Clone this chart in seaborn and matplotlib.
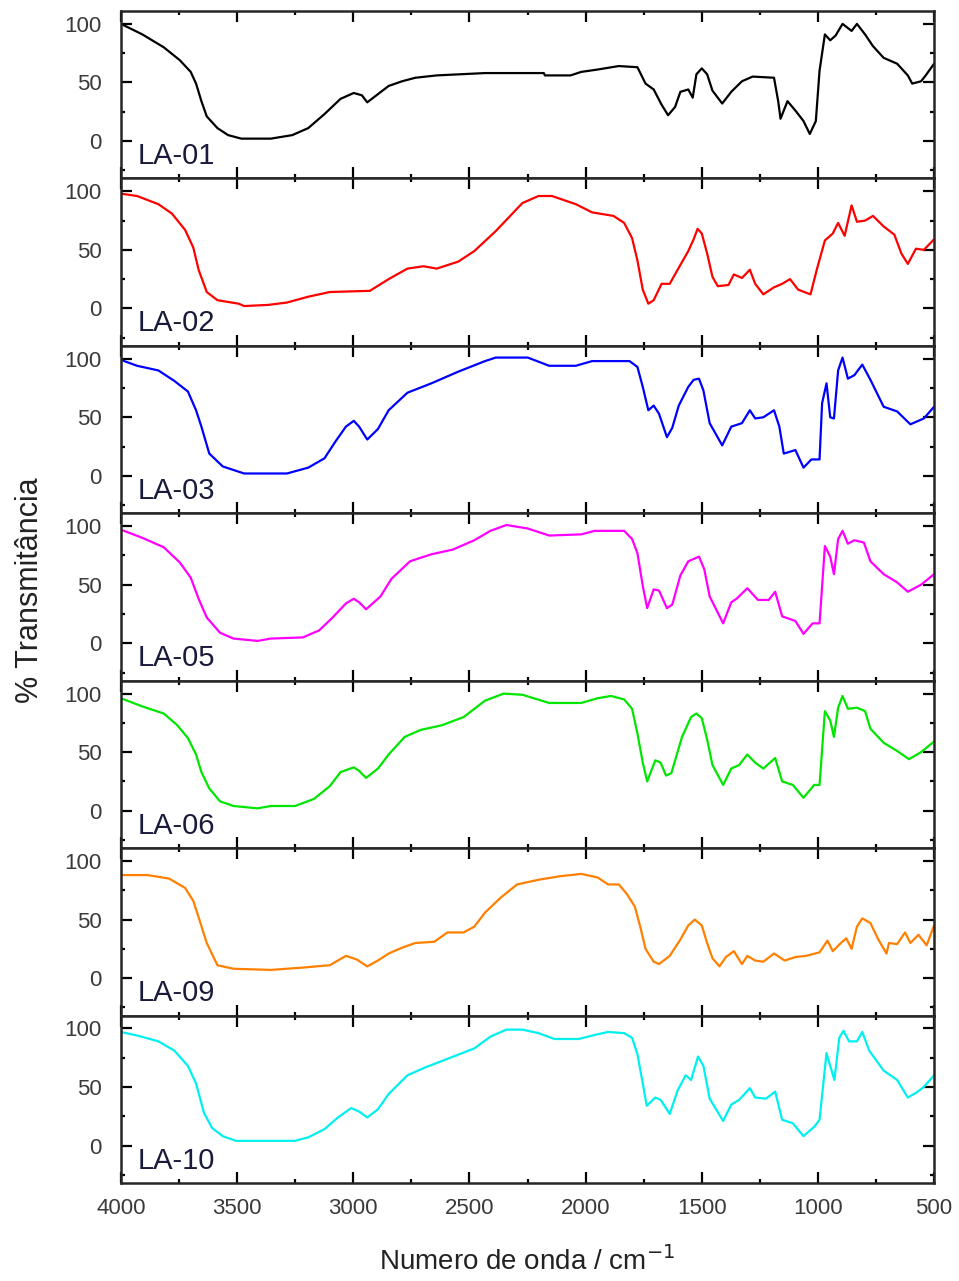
# FTIR spectra of the LA samples, stacked panels

import pandas as pd
import numpy as np
import matplotlib
matplotlib.use("Agg")
import matplotlib.pyplot as plt
import seaborn as sns
from matplotlib.ticker import MultipleLocator

sns.set_style("ticks")
plt.rcParams["font.family"] = ["Liberation Sans", "DejaVu Sans"]

# ------------------------
# Data
# ------------------------
samples = ["LA-01", "LA-02", "LA-03", "LA-05", "LA-06", "LA-09", "LA-10"]
colors = ["black", "#ff0000", "#0000ff", "#ff00ff", "#00e600", "#ff8000", "#00f0f0"]

wn_la01 = [4000, 3908, 3816, 3747, 3700, 3677, 3654, 3631, 3585, 3539, 3482, 3355, 3263, 3194, 3124,
           3055, 2998, 2963, 2940, 2894, 2848, 2790, 2733, 2641, 2433, 2180, 2175, 2065, 2019, 1949,
           1857, 1777, 1742, 1707, 1673, 1645, 1615, 1592, 1558, 1539, 1523, 1500, 1477, 1454, 1412,
           1373, 1327, 1281, 1189, 1171, 1161, 1131, 1097, 1062, 1035, 1009, 993, 970, 947, 924, 894,
           855, 832, 797, 763, 717, 659, 613, 594, 556, 536, 500]
t_la01 = [100, 91, 80, 69, 59, 49, 34, 21, 11, 5, 2, 2, 5, 11, 23,
          36, 41, 39, 33, 40, 47, 51, 54, 56, 58, 58, 56, 56, 59, 61,
          64, 63, 49, 44, 31, 22, 29, 42, 44, 37, 57, 62, 57, 43, 32,
          42, 51, 55, 54, 34, 19, 34, 26, 17, 6, 17, 60, 91, 86, 90, 100,
          94, 100, 91, 81, 71, 66, 56, 49, 51, 56, 66]

wn_la02 = [4000, 3931, 3839, 3781, 3724, 3689, 3666, 3631, 3585, 3493, 3470, 3366, 3286, 3194, 3101,
           2929, 2848, 2767, 2698, 2641, 2548, 2479, 2387, 2272, 2203, 2145, 2042, 1972, 1880, 1834,
           1800, 1777, 1754, 1730, 1707, 1673, 1638, 1604, 1558, 1535, 1518, 1500, 1477, 1454, 1431,
           1385, 1362, 1327, 1293, 1270, 1235, 1189, 1154, 1120, 1085, 1032, 1005, 970, 936, 913, 885,
           855, 832, 797, 763, 717, 671, 641, 613, 578, 544, 500]
t_la02 = [98, 96, 89, 81, 67, 52, 33, 14, 7, 4, 2, 3, 5, 10, 14,
          15, 25, 34, 36, 34, 40, 49, 66, 90, 96, 96, 89, 82, 79, 73,
          60, 41, 16, 4, 7, 21, 21, 33, 49, 59, 68, 64, 47, 27, 19,
          20, 29, 26, 33, 21, 12, 18, 21, 25, 16, 12, 33, 58, 64, 73, 62,
          88, 74, 75, 79, 70, 63, 47, 38, 51, 50, 59]

wn_la03 = [4000, 3931, 3839, 3770, 3712, 3677, 3654, 3620, 3562, 3470, 3286, 3194, 3124, 3078, 3032,
           2998, 2975, 2940, 2894, 2848, 2767, 2664, 2548, 2433, 2387, 2249, 2157, 2042, 1972, 1811,
           1777, 1754, 1730, 1707, 1684, 1650, 1627, 1599, 1558, 1535, 1512, 1493, 1466, 1412, 1373,
           1327, 1293, 1270, 1235, 1189, 1166, 1147, 1097, 1062, 1028, 993, 982, 963, 947, 931, 913,
           894, 871, 843, 809, 774, 717, 659, 602, 544, 500]
t_la03 = [99, 94, 90, 81, 72, 56, 42, 19, 8, 2, 2, 7, 15, 29, 42,
          47, 42, 31, 40, 56, 71, 79, 89, 98, 101, 101, 94, 94, 98, 98,
          93, 76, 56, 60, 53, 33, 41, 60, 76, 82, 83, 73, 45, 26, 42,
          45, 56, 49, 50, 56, 42, 19, 22, 7, 14, 14, 62, 79, 50, 49, 90,
          101, 83, 86, 95, 82, 59, 55, 44, 49, 59]

wn_la05 = [4000, 3908, 3816, 3747, 3700, 3666, 3631, 3574, 3516, 3412, 3355, 3217, 3147, 3089, 3032,
           2998, 2975, 2945, 2883, 2836, 2756, 2664, 2572, 2479, 2410, 2341, 2249, 2157, 2019, 1961,
           1834, 1800, 1777, 1754, 1735, 1707, 1684, 1650, 1627, 1592, 1558, 1512, 1489, 1466, 1408,
           1373, 1350, 1304, 1258, 1212, 1184, 1154, 1097, 1062, 1023, 993, 970, 947, 931, 913, 894,
           871, 843, 802, 774, 717, 659, 613, 556, 500]
t_la05 = [97, 90, 82, 69, 56, 38, 22, 9, 4, 2, 4, 5, 11, 22, 34,
          38, 35, 29, 40, 55, 70, 76, 80, 88, 96, 101, 98, 92, 93, 96,
          96, 89, 77, 49, 30, 46, 45, 30, 33, 58, 70, 74, 63, 40, 17,
          35, 38, 47, 37, 37, 44, 23, 19, 8, 17, 17, 83, 74, 59, 89, 96,
          85, 88, 86, 70, 59, 52, 44, 50, 59]

wn_la06 = [4000, 3908, 3816, 3758, 3712, 3677, 3654, 3620, 3574, 3516, 3412, 3355, 3251, 3170, 3101,
           3055, 2998, 2975, 2945, 2894, 2848, 2779, 2710, 2618, 2525, 2433, 2353, 2272, 2157, 2019,
           1949, 1891, 1834, 1800, 1777, 1754, 1735, 1700, 1677, 1654, 1631, 1585, 1546, 1523, 1500,
           1477, 1454, 1408, 1373, 1339, 1304, 1270, 1235, 1184, 1154, 1108, 1062, 1016, 993, 970, 947,
           931, 913, 894, 871, 832, 797, 774, 717, 659, 608, 556, 500]
t_la06 = [96, 89, 83, 73, 62, 48, 33, 19, 8, 4, 2, 4, 4, 10, 21,
          33, 37, 34, 28, 36, 48, 63, 69, 73, 80, 94, 100, 99, 92, 92,
          96, 98, 95, 87, 66, 41, 25, 43, 41, 30, 32, 63, 80, 83, 79,
          61, 39, 22, 36, 39, 48, 41, 36, 45, 25, 22, 11, 22, 22, 85, 77,
          63, 88, 98, 87, 88, 85, 70, 58, 51, 44, 50, 59]

wn_la09 = [4000, 3885, 3793, 3724, 3689, 3666, 3631, 3585, 3516, 3355, 3217, 3101, 3032, 2986, 2940,
           2894, 2848, 2790, 2733, 2652, 2595, 2525, 2479, 2433, 2364, 2295, 2203, 2111, 2019, 1949,
           1903, 1857, 1823, 1788, 1765, 1742, 1707, 1684, 1638, 1592, 1558, 1530, 1500, 1477, 1454,
           1424, 1396, 1362, 1327, 1304, 1270, 1235, 1189, 1143, 1097, 1051, 993, 959, 936, 901, 878,
           855, 832, 809, 774, 740, 705, 694, 659, 625, 602, 567, 532, 500]
t_la09 = [88, 88, 85, 77, 66, 52, 30, 11, 8, 7, 9, 11, 19, 16, 10,
          15, 21, 26, 30, 31, 39, 39, 44, 56, 69, 80, 84, 87, 89, 86,
          80, 80, 72, 61, 44, 25, 14, 12, 19, 33, 45, 50, 45, 30, 17,
          10, 18, 23, 12, 19, 15, 14, 21, 15, 18, 19, 22, 32, 23, 30, 34,
          25, 44, 51, 47, 33, 21, 30, 29, 39, 30, 37, 28, 45]

wn_la10 = [4000, 3931, 3839, 3770, 3712, 3677, 3643, 3608, 3562, 3505, 3251, 3194, 3124, 3066, 3009,
           2975, 2940, 2894, 2848, 2767, 2687, 2595, 2479, 2410, 2341, 2272, 2203, 2134, 2030, 1949,
           1903, 1834, 1800, 1777, 1754, 1737, 1700, 1677, 1638, 1604, 1569, 1546, 1516, 1493, 1466,
           1408, 1373, 1339, 1293, 1270, 1224, 1184, 1154, 1108, 1062, 1016, 993, 963, 947, 929, 908,
           890, 866, 832, 809, 779, 717, 659, 613, 578, 544, 500]
t_la10 = [97, 94, 89, 81, 68, 53, 28, 15, 8, 4, 4, 7, 14, 24, 32,
          29, 24, 31, 44, 60, 67, 74, 83, 93, 99, 99, 96, 91, 91, 95,
          97, 96, 92, 78, 53, 34, 41, 39, 27, 47, 60, 56, 76, 68, 40,
          21, 35, 39, 49, 41, 40, 46, 22, 19, 8, 16, 22, 79, 68, 56, 92,
          98, 89, 89, 97, 81, 64, 56, 41, 45, 50, 60]

wavenumbers = [wn_la01, wn_la02, wn_la03, wn_la05, wn_la06, wn_la09, wn_la10]
transmittance = [t_la01, t_la02, t_la03, t_la05, t_la06, t_la09, t_la10]

x_ticks = [4000, 3500, 3000, 2500, 2000, 1500, 1000, 500]
y_ticks = [0, 50, 100]

# ------------------------
# Figure with stacked panels
# ------------------------
fig, axes = plt.subplots(len(samples), 1, sharex=True, figsize=(9.59, 12.81), dpi=100)
fig.subplots_adjust(left=0.1262, right=0.974, top=0.9914, bottom=0.0765, hspace=0)

for ax, name, wn, t, c in zip(axes, samples, wavenumbers, transmittance, colors):
    df = pd.DataFrame({"wn": wn, "T": t})
    sns.lineplot(data=df, x="wn", y="T", ax=ax, color=c, lw=1.6, sort=False, estimator=None)
    ax.set_xlim(4000, 500)
    ax.set_ylim(-32, 111)
    ax.set_yticks(y_ticks)
    ax.yaxis.set_minor_locator(MultipleLocator(25))
    ax.xaxis.set_minor_locator(MultipleLocator(250))
    ax.tick_params(which="both", direction="in", top=True, right=True, width=1.6, colors="black",
                   labelcolor="#3a3a3a", labelsize=16)
    ax.tick_params(which="major", length=8)
    ax.tick_params(which="minor", length=3)
    ax.tick_params(axis="y", pad=14)
    ax.tick_params(axis="x", pad=11)
    for s in ax.spines.values():
        s.set_linewidth(1.8)
    ax.set_xlabel("")
    ax.set_ylabel("")
    ax.text(0.021, 0.05, name, transform=ax.transAxes, fontsize=21, color="#1a1a3a",
            ha="left", va="bottom")

axes[-1].set_xticks(x_ticks)
axes[-1].set_xticklabels([str(v) for v in x_ticks])

fig.text(0.031, 0.539, "% Transmitância", rotation=90, fontsize=22, color="#222222",
         ha="center", va="center")
fig.text(0.55, 0.004, "Numero de onda / cm$^{-1}$", fontsize=20, color="#222222",
         ha="center", va="bottom")

plt.savefig("out.png", dpi=100)
